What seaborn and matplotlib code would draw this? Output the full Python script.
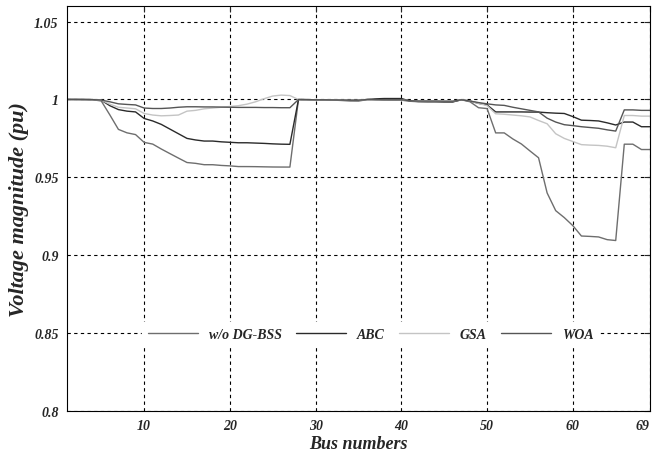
import numpy as np
import pandas as pd
import matplotlib
matplotlib.use("Agg")
import matplotlib.pyplot as plt
import seaborn as sns

buses = list(range(1, 70))

v_base = [1.0, 0.99997, 0.99993, 0.99984, 0.99902, 0.99009, 0.98079, 0.97858, 0.97745, 0.97245,
          0.97135, 0.96819, 0.96526, 0.96237, 0.95952, 0.95899, 0.95812, 0.95811, 0.95765, 0.95737,
          0.95692, 0.95691, 0.95686, 0.95675, 0.95665, 0.95661, 0.95660,
          0.99993, 0.99985, 0.99973, 0.99971, 0.99961, 0.99935, 0.99901, 0.99895,
          0.99992, 0.99975, 0.99959, 0.99954, 0.99954, 0.99884, 0.99855, 0.99851, 0.99850, 0.99841, 0.99840,
          0.99979, 0.99854, 0.99470, 0.99415,
          0.97854, 0.97853,
          0.97466, 0.97142, 0.96695, 0.96257, 0.94000, 0.92863, 0.92417, 0.91899, 0.91234, 0.91209,
          0.91175, 0.91001, 0.90945,
          0.97129, 0.97129, 0.96786, 0.96786]

v_abc = [1.0, 1.0, 0.99995, 0.9999, 0.9995, 0.9960, 0.9935, 0.9925, 0.9920, 0.9878,
         0.9862, 0.9840, 0.9810, 0.9780, 0.9750, 0.9740, 0.9733, 0.9733, 0.9728, 0.9725,
         0.9722, 0.9722, 0.9720, 0.9718, 0.9715, 0.9713, 0.9712,
         0.99995, 0.9999, 0.9998, 0.9998, 0.9997, 0.9996, 0.9995, 0.9995,
         1.0, 1.0004, 1.0006, 1.0006, 1.0006, 0.9990, 0.9987, 0.9986, 0.9986, 0.9985, 0.9985,
         0.9998, 0.9990, 0.9975, 0.9965,
         0.9920, 0.9920,
         0.9920, 0.9920, 0.9919, 0.9919, 0.9915, 0.9912, 0.9910, 0.9890, 0.9867, 0.9865,
         0.9862, 0.9850, 0.9836,
         0.9855, 0.9855, 0.9825, 0.9825]

v_gsa = [1.0, 1.0, 1.0, 0.9999, 0.9995, 0.9970, 0.9950, 0.9945, 0.9940, 0.9910,
         0.9900, 0.9895, 0.9897, 0.9900, 0.9925, 0.9930, 0.9940, 0.9945, 0.9950, 0.9955,
         0.9960, 0.9970, 0.9985, 1.0005, 1.0022, 1.0028, 1.0025,
         0.99995, 0.9999, 0.9998, 0.9998, 0.9997, 0.9996, 0.9995, 0.9995,
         0.99995, 0.9999, 0.9998, 0.9998, 0.9998, 0.9992, 0.9990, 0.9990, 0.9990, 0.9989, 0.9989,
         0.9998, 0.9990, 0.9975, 0.9960,
         0.9908, 0.9905,
         0.9900, 0.9895, 0.9888, 0.9865, 0.9844, 0.9780, 0.9750, 0.9730, 0.9710, 0.9707,
         0.9705, 0.9700, 0.9690,
         0.9897, 0.9897, 0.9893, 0.9893]

v_woa = [1.0, 1.0, 0.99998, 0.9999, 0.9996, 0.9985, 0.9972, 0.9968, 0.9965, 0.9945,
         0.9942, 0.9942, 0.9945, 0.9950, 0.9953, 0.9953, 0.9952, 0.9952, 0.9951, 0.9950,
         0.9949, 0.9949, 0.9949, 0.9948, 0.9948, 0.9947, 0.9947,
         0.99995, 0.9999, 0.9998, 0.9998, 0.9997, 0.9996, 0.9995, 0.9995,
         0.99995, 0.9999, 0.9998, 0.9998, 0.9998, 0.9992, 0.9990, 0.9990, 0.9990, 0.9989, 0.9989,
         0.9998, 0.9990, 0.9980, 0.9972,
         0.9965, 0.9962,
         0.9950, 0.9940, 0.9930, 0.9920, 0.9880, 0.9855, 0.9838, 0.9832, 0.9825, 0.9820,
         0.9815, 0.9805, 0.9797,
         0.9933, 0.9933, 0.9930, 0.9930]

methods = ["w/o DG-BSS", "ABC", "GSA", "WOA"]
colors = ["#6e6e6e", "#2a2a2a", "#c4c4c4", "#555555"]

y_ticks = [0.8, 0.85, 0.9, 0.95, 1.0, 1.05]
y_tick_labels = ["0.8", "0.85", "0.9", "0.95", "1", "1.05"]
x_ticks = [10, 20, 30, 40, 50, 60, 69]
x_tick_labels = ["10", "20", "30", "40", "50", "60", "69"]

df = pd.concat([
    pd.DataFrame({"Bus": buses, "V": v, "Method": m})
    for m, v in zip(methods, [v_base, v_abc, v_gsa, v_woa])
], ignore_index=True)

sns.set_style("white")
plt.rcParams["font.family"] = ["Liberation Serif", "DejaVu Serif"]

fig = plt.figure(figsize=(6.54, 4.60), dpi=100)
ax = fig.add_axes([0.1024, 0.1043, 0.8915, 0.8805])

sns.lineplot(data=df, x="Bus", y="V", hue="Method", hue_order=methods,
             palette=dict(zip(methods, colors)), linewidth=1.0, ax=ax,
             estimator=None, sort=False)

ax.set_xlim(1, 69)
ax.set_ylim(0.8, 1.06)
ax.set_yticks(y_ticks)
ax.set_yticklabels(y_tick_labels)
ax.set_xticks(x_ticks)
ax.set_xticklabels(x_tick_labels)

for lab in ax.get_xticklabels() + ax.get_yticklabels():
    lab.set_fontweight("bold")
    lab.set_fontstyle("italic")
    lab.set_fontsize(10)
ax.get_xticklabels()[-1].set_horizontalalignment("right")

ax.tick_params(direction="in", length=4, width=0.8, top=True, right=True, pad=6)
ax.grid(True, color="black", linestyle=(0, (3, 3)), linewidth=0.8)
for s in ax.spines.values():
    s.set_color("black")
    s.set_linewidth(0.8)

ax.set_xlabel("Bus numbers", fontsize=13, fontweight="bold", fontstyle="italic", labelpad=2)
ax.set_ylabel("Voltage magnitude (pu)", fontsize=16, fontweight="bold", fontstyle="italic", labelpad=4)

leg = ax.legend(loc="center", bbox_to_anchor=(0.521, 0.19), ncol=4, frameon=True,
                handlelength=3.6, columnspacing=1.0, handletextpad=0.8,
                prop={"weight": "bold", "style": "italic", "size": 10})
leg.get_frame().set_facecolor("white")
leg.get_frame().set_edgecolor("white")
leg.get_frame().set_alpha(1.0)
leg.get_frame().set_boxstyle("square", pad=0.0)

fig.savefig("out.png", dpi=100)
